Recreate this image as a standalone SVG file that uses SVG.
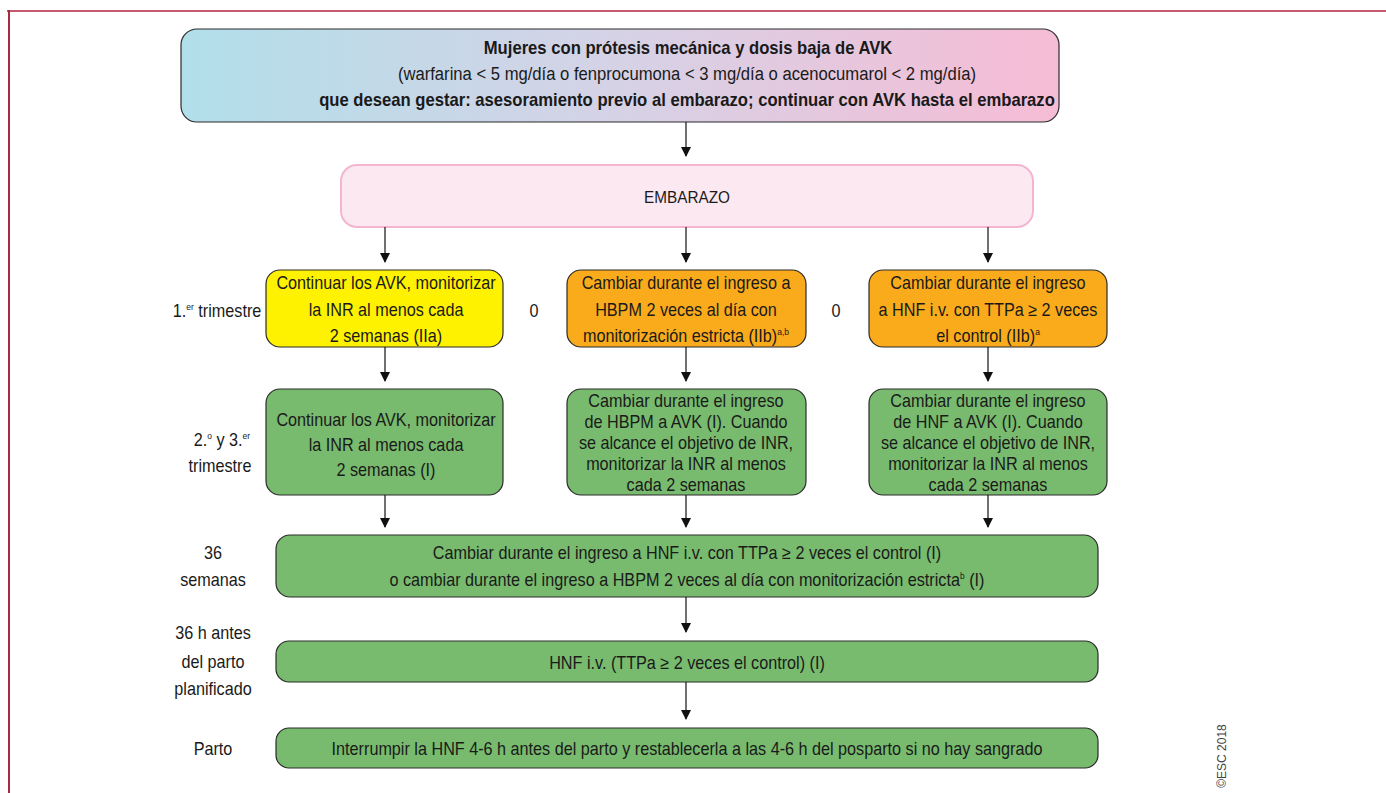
<svg xmlns="http://www.w3.org/2000/svg" width="1386" height="793" viewBox="0 0 1386 793">
<style>
text{font-family:"Liberation Sans",Arial,sans-serif;fill:#1a1a1a;text-anchor:middle;transform-box:fill-box;transform-origin:center;transform:scaleX(0.9)}
.t{font-size:18px}
.s{font-size:18.5px}
.e{font-size:17px}
.b{font-weight:bold}
.box{stroke:#2b2b2b;stroke-width:1.2}
.yel{fill:#fff200}
.org{fill:#f9ab1c}
.grn{fill:#78bb6e}
.con line{stroke:#111;stroke-width:1.2;marker-end:url(#ah)}
.sup{font-size:9.5px}
.cp{font-size:12px;fill:#444;transform:none}
</style>
<defs>
<linearGradient id="g1" x1="0" y1="0" x2="1" y2="0">
<stop offset="0" stop-color="#b1dfea"/>
<stop offset="0.5" stop-color="#d6d2e6"/>
<stop offset="1" stop-color="#f6bcd5"/>
</linearGradient>
<marker id="ah" markerWidth="10" markerHeight="12" refX="9" refY="5" orient="auto" markerUnits="userSpaceOnUse">
<path d="M0,0 L10,5 L0,10 Z" fill="#111"/>
</marker>
</defs>
<rect width="1386" height="793" fill="#fff"/>
<line x1="7" y1="11" x2="1386" y2="11" stroke="#c35a6d" stroke-width="2"/>
<line x1="9" y1="10" x2="9" y2="793" stroke="#a62a40" stroke-width="2"/>

<g id="top">
<rect class="box" x="181" y="29" width="878" height="93" rx="16" fill="url(#g1)"/>
<text class="s b" x="688" y="54">Mujeres con prótesis mecánica y dosis baja de AVK</text>
<text class="s" x="687" y="80">(warfarina &lt; 5 mg/día o fenprocumona &lt; 3 mg/día o acenocumarol &lt; 2 mg/día)</text>
<text class="s b" x="687" y="106">que desean gestar: asesoramiento previo al embarazo; continuar con AVK hasta el embarazo</text>
</g>

<g id="embarazo">
<rect x="341" y="165" width="692" height="62" rx="16" fill="#fbe8f1" stroke="#f3b6ce" stroke-width="2"/>
<text class="e" x="687" y="203">EMBARAZO</text>
</g>

<g id="lbl1">
<text class="t" x="217" y="317">1.<tspan class="sup" dy="-7">er</tspan><tspan dy="7"> trimestre</tspan></text>
</g>
<g id="n1a">
<rect class="box yel" x="266" y="270" width="237" height="77" rx="14"/>
<text class="t" x="386" y="289">Continuar los AVK, monitorizar</text>
<text class="t" x="386" y="316">la INR al menos cada</text>
<text class="t" x="386" y="342">2 semanas (IIa)</text>
</g>
<g id="o1"><text class="t" x="534" y="317">0</text></g>
<g id="n1b">
<rect class="box org" x="567" y="270" width="239" height="77" rx="14"/>
<text class="t" x="686" y="289">Cambiar durante el ingreso a</text>
<text class="t" x="686" y="316">HBPM 2 veces al día con</text>
<text class="t" x="686" y="342">monitorización estricta (IIb)<tspan class="sup" dy="-7">a,b</tspan></text>
</g>
<g id="o2"><text class="t" x="836" y="317">0</text></g>
<g id="n1c">
<rect class="box org" x="869" y="270" width="238" height="77" rx="14"/>
<text class="t" x="988" y="289">Cambiar durante el ingreso</text>
<text class="t" x="988" y="316">a HNF i.v. con TTPa ≥ 2 veces</text>
<text class="t" x="988" y="342">el control (IIb)<tspan class="sup" dy="-7">a</tspan></text>
</g>

<g id="lbl2">
<text class="t" x="222" y="446">2.<tspan class="sup" dy="-7">o</tspan><tspan dy="7"> y 3.</tspan><tspan class="sup" dy="-7">er</tspan></text>
<text class="t" x="220" y="472">trimestre</text>
</g>
<g id="n2a">
<rect class="box grn" x="266" y="389" width="237" height="106" rx="14"/>
<text class="t" x="386" y="426">Continuar los AVK, monitorizar</text>
<text class="t" x="386" y="451">la INR al menos cada</text>
<text class="t" x="386" y="476">2 semanas (I)</text>
</g>
<g id="n2b">
<rect class="box grn" x="567" y="389" width="239" height="106" rx="14"/>
<text class="t" x="686" y="407">Cambiar durante el ingreso</text>
<text class="t" x="686" y="428">de HBPM a AVK (I). Cuando</text>
<text class="t" x="686" y="449">se alcance el objetivo de INR,</text>
<text class="t" x="686" y="470">monitorizar la INR al menos</text>
<text class="t" x="686" y="491">cada 2 semanas</text>
</g>
<g id="n2c">
<rect class="box grn" x="869" y="389" width="238" height="106" rx="14"/>
<text class="t" x="988" y="407">Cambiar durante el ingreso</text>
<text class="t" x="988" y="428">de HNF a AVK (I). Cuando</text>
<text class="t" x="988" y="449">se alcance el objetivo de INR,</text>
<text class="t" x="988" y="470">monitorizar la INR al menos</text>
<text class="t" x="988" y="491">cada 2 semanas</text>
</g>

<g id="lbl3">
<text class="t" x="213" y="559">36</text>
<text class="t" x="213" y="586">semanas</text>
</g>
<g id="n3">
<rect class="box grn" x="276" y="535" width="822" height="62" rx="14"/>
<text class="t" x="687" y="559">Cambiar durante el ingreso a HNF i.v. con TTPa ≥ 2 veces el control (I)</text>
<text class="t" x="687" y="586">o cambiar durante el ingreso a HBPM 2 veces al día con monitorización estricta<tspan class="sup" dy="-7">b</tspan><tspan dy="7"> (I)</tspan></text>
</g>

<g id="lbl4">
<text class="t" x="213" y="639">36 h antes</text>
<text class="t" x="213" y="668">del parto</text>
<text class="t" x="213" y="695">planificado</text>
</g>
<g id="n4">
<rect class="box grn" x="276" y="641" width="822" height="41" rx="13"/>
<text class="t" x="687" y="669">HNF i.v. (TTPa ≥ 2 veces el control) (I)</text>
</g>

<g id="lbl5"><text class="t" x="213" y="755">Parto</text></g>
<g id="n5">
<rect class="box grn" x="276" y="728" width="822" height="40" rx="13"/>
<text class="t" x="687" y="755">Interrumpir la HNF 4-6 h antes del parto y restablecerla a las 4-6 h del posparto si no hay sangrado</text>
</g>

<g id="connectors" class="con">
<line x1="686" y1="122" x2="686" y2="156"/>
<line x1="385" y1="227" x2="385" y2="262"/>
<line x1="686" y1="227" x2="686" y2="262"/>
<line x1="988" y1="227" x2="988" y2="262"/>
<line x1="385" y1="347" x2="385" y2="381"/>
<line x1="686" y1="347" x2="686" y2="381"/>
<line x1="988" y1="347" x2="988" y2="381"/>
<line x1="385" y1="495" x2="385" y2="527"/>
<line x1="686" y1="495" x2="686" y2="527"/>
<line x1="988" y1="495" x2="988" y2="527"/>
<line x1="686" y1="597" x2="686" y2="632"/>
<line x1="686" y1="682" x2="686" y2="719"/>
</g>

<g id="copyright" transform="translate(1226,756) rotate(-90)">
<text class="cp" x="0" y="0">©ESC 2018</text>
</g>
</svg>
